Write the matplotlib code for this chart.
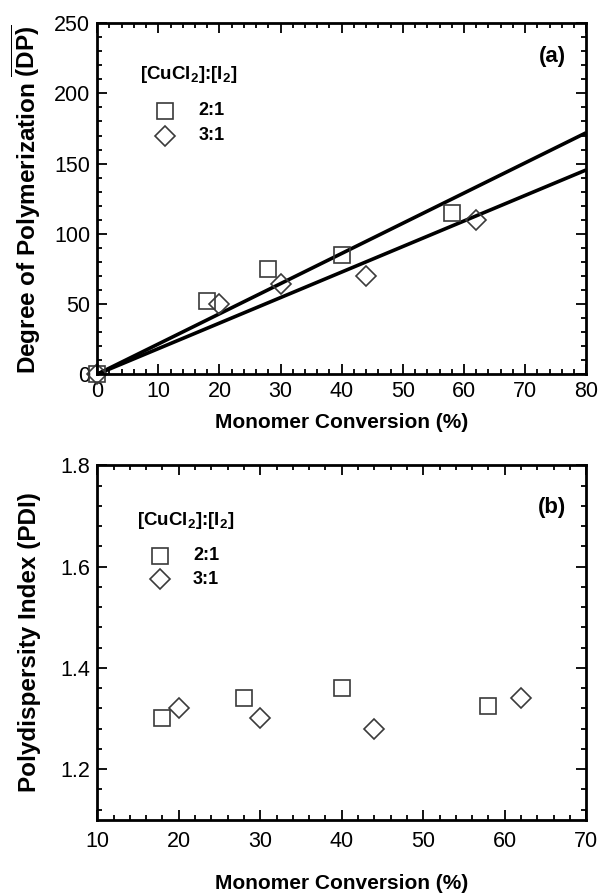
import matplotlib
matplotlib.use('Agg')
import matplotlib.pyplot as plt
from matplotlib.ticker import MultipleLocator

plt.rcParams['font.family'] = ['Liberation Sans', 'DejaVu Sans']
plt.rcParams['mathtext.fontset'] = 'custom'
plt.rcParams['mathtext.rm'] = 'Liberation Sans'
plt.rcParams['mathtext.bf'] = 'Liberation Sans:bold'

# ---------------------------------------------------------------
# Data
# ---------------------------------------------------------------
# (a) degree of polymerization vs conversion
conv21_a = [0, 18, 28, 40, 58]
dp21 = [0, 52, 75, 85, 115]
conv31_a = [0, 20, 30, 44, 62]
dp31 = [0, 50, 64, 70, 110]
# linear fits through origin, end values at 80 %
fit_x = [0, 80]
fit21 = [0, 172]
fit31 = [0, 145.5]

# (b) polydispersity vs conversion
conv21_b = [18, 28, 40, 58]
pdi21 = [1.30, 1.34, 1.36, 1.325]
conv31_b = [20, 30, 44, 62]
pdi31 = [1.32, 1.30, 1.28, 1.34]

series_labels = ['2:1', '3:1']
legend_title = r'[CuCl$_\mathbf{2}$]:[I$_\mathbf{2}$]'

# ---------------------------------------------------------------
# Figure
# ---------------------------------------------------------------
fig = plt.figure(figsize=(6.0, 8.93), dpi=100)
axA = fig.add_axes([0.162, 0.581, 0.815, 0.393])
axB = fig.add_axes([0.162, 0.082, 0.815, 0.397])

mk_edge = '#3a3a3a'
sq = dict(marker='s', ms=11, mfc='none', mec=mk_edge, mew=1.2, ls='none', clip_on=False)
di = dict(marker='D', ms=10, mfc='none', mec=mk_edge, mew=1.2, ls='none', clip_on=False)


def style_axis(ax):
	for sp in ax.spines.values():
		sp.set_linewidth(2.0)
	ax.tick_params(which='both', direction='in', top=True, right=True, width=1.3, labelsize=15.5)
	ax.tick_params(which='major', length=7, pad=5)
	ax.tick_params(which='minor', length=3.5)


def draw_key(ax, xt, yt, xm, xl, y1, y2):
	ax.text(xt, yt, legend_title, transform=ax.transAxes, fontsize=13.5, fontweight='bold',
			ha='left', va='center')
	ax.plot([xm], [y1], transform=ax.transAxes, **sq)
	ax.plot([xm], [y2], transform=ax.transAxes, **di)
	ax.text(xl, y1, series_labels[0], transform=ax.transAxes, fontsize=13, fontweight='bold', va='center')
	ax.text(xl, y2, series_labels[1], transform=ax.transAxes, fontsize=13, fontweight='bold', va='center')


# ---------------- (a) ----------------
axA.plot(fit_x, fit21, 'k', lw=2.6, solid_capstyle='butt')
axA.plot(fit_x, fit31, 'k', lw=2.6, solid_capstyle='butt')
axA.plot(conv21_a, dp21, **sq)
axA.plot(conv31_a, dp31, **di)
axA.set_xlim(0, 80)
axA.set_ylim(0, 250)
axA.xaxis.set_major_locator(MultipleLocator(10))
axA.xaxis.set_minor_locator(MultipleLocator(2))
axA.yaxis.set_major_locator(MultipleLocator(50))
axA.yaxis.set_minor_locator(MultipleLocator(10))
style_axis(axA)
axA.set_xlabel('Monomer Conversion (%)', fontsize=15, fontweight='bold', labelpad=8)
axA.set_ylabel(r'Degree of Polymerization $\overline{\mathbf{(DP)}}$', fontsize=17.5,
			   fontweight='bold', labelpad=8)
axA.text(0.93, 0.905, '(a)', transform=axA.transAxes, fontsize=16, fontweight='bold',
		 ha='center', va='center')
draw_key(axA, 0.088, 0.855, 0.139, 0.207, 0.75, 0.68)

# ---------------- (b) ----------------
axB.plot(conv21_b, pdi21, **sq)
axB.plot(conv31_b, pdi31, **di)
axB.set_xlim(10, 70)
axB.set_ylim(1.1, 1.8)
axB.xaxis.set_major_locator(MultipleLocator(10))
axB.xaxis.set_minor_locator(MultipleLocator(2))
axB.yaxis.set_major_locator(MultipleLocator(0.2))
axB.yaxis.set_minor_locator(MultipleLocator(0.04))
style_axis(axB)
axB.tick_params(axis='x', which='major', pad=8)
axB.set_xlabel('Monomer Conversion (%)', fontsize=15, fontweight='bold', labelpad=16)
axB.set_ylabel('Polydispersity Index (PDI)', fontsize=17.5, fontweight='bold', labelpad=14)
axB.text(0.93, 0.882, '(b)', transform=axB.transAxes, fontsize=16, fontweight='bold',
		 ha='center', va='center')
draw_key(axB, 0.082, 0.845, 0.128, 0.196, 0.745, 0.678)

fig.savefig('out.png', dpi=100)
